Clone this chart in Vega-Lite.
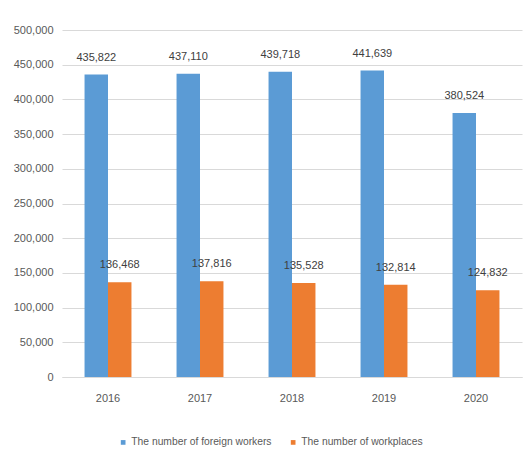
{
  "$schema": "https://vega.github.io/schema/vega-lite/v6.json",
  "width": 460,
  "height": 347,
  "autosize": {"type": "none"},
  "padding": {"left": 62, "top": 30, "right": 9, "bottom": 83},
  "background": "white",
  "config": {
    "font": "Liberation Sans",
    "view": {"stroke": null},
    "axis": {"labelColor": "#595959", "labelFontSize": 11, "labelFont": "Liberation Sans", "ticks": false, "title": null, "gridColor": "#d9d9d9"},
    "legend": {"labelColor": "#595959", "labelFontSize": 10.3, "labelFont": "Liberation Sans", "labelLimit": 300}
  },
  "data": {
    "values": [
      {"year": "2016", "series": "The number of foreign workers", "value": 435822},
      {"year": "2017", "series": "The number of foreign workers", "value": 437110},
      {"year": "2018", "series": "The number of foreign workers", "value": 439718},
      {"year": "2019", "series": "The number of foreign workers", "value": 441639},
      {"year": "2020", "series": "The number of foreign workers", "value": 380524},
      {"year": "2016", "series": "The number of workplaces", "value": 136468},
      {"year": "2017", "series": "The number of workplaces", "value": 137816},
      {"year": "2018", "series": "The number of workplaces", "value": 135528},
      {"year": "2019", "series": "The number of workplaces", "value": 132814},
      {"year": "2020", "series": "The number of workplaces", "value": 124832}
    ]
  },
  "encoding": {
    "x": {
      "field": "year", "type": "nominal",
      "scale": {"paddingInner": 0.49, "paddingOuter": 0.245},
      "axis": {"labelAngle": 0, "domain": true, "domainColor": "#d9d9d9", "labelPadding": 15, "grid": false}
    },
    "xOffset": {"field": "series", "type": "nominal", "sort": ["The number of foreign workers", "The number of workplaces"]},
    "y": {
      "field": "value", "type": "quantitative",
      "scale": {"domain": [0, 500000]},
      "axis": {"values": [0, 50000, 100000, 150000, 200000, 250000, 300000, 350000, 400000, 450000, 500000], "format": ",d", "domain": false, "labelPadding": 9}
    }
  },
  "layer": [
    {
      "mark": {"type": "bar"},
      "encoding": {
        "color": {
          "field": "series", "type": "nominal",
          "sort": ["The number of foreign workers", "The number of workplaces"],
          "scale": {"range": ["#5b9bd5", "#ed7d31"]},
          "legend": {"title": null, "orient": "none", "direction": "horizontal", "legendX": 56, "legendY": 407, "symbolType": "square", "symbolSize": 22, "symbolStrokeWidth": 0, "labelOffset": 3, "columnPadding": 16}
        }
      }
    },
    {
      "mark": {"type": "text", "baseline": "alphabetic", "dy": -14, "fontSize": 11, "color": "#404040", "font": "Liberation Sans"},
      "encoding": {
        "text": {"field": "value", "type": "quantitative", "format": ","}
      }
    }
  ]
}
